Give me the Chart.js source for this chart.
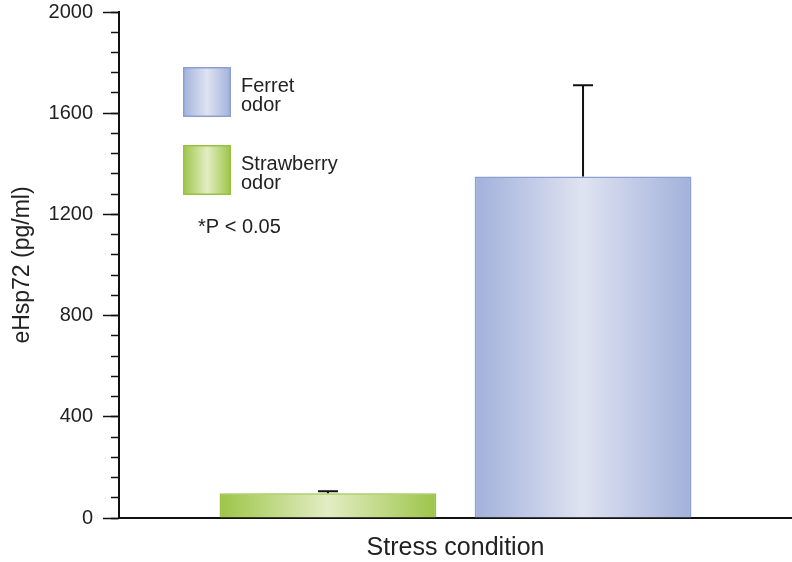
<!DOCTYPE html>
<html>
<head>
<meta charset="utf-8">
<script src="https://cdn.jsdelivr.net/npm/chart.js@4/dist/chart.umd.min.js"></script>
<style>
  html, body { margin: 0; padding: 0; background: #ffffff; }
  #wrap { position: relative; width: 792px; height: 562px; }
</style>
</head>
<body>
<div id="wrap"><canvas id="c" width="792" height="562"></canvas></div>
<script>
// ---- data ----
const categories = ['Stress condition'];
const seriesNames = ['Strawberry odor', 'Ferret odor'];
const legendLines = [['Strawberry', 'odor'], ['Ferret', 'odor']];
const meanValues = [98, 1350];
const errorValues = [8, 360];
const yMin = 0;
const yMax = 2000;
const majorStep = 400;
const minorStep = 80;
const yTitle = 'eHsp72 (pg/ml)';
const xTitle = 'Stress condition';
const noteText = '*P < 0.05';

// ---- styles ----
const FONT = "'Liberation Sans', Arial, Helvetica, sans-serif";
const CAT_PCT = 0.758;
const BAR_PCT = 0.85;
const palette = [
  { edge: '#9cc548', mid: '#e3edc3', border: '#97c143' },
  { edge: '#a2b1db', mid: '#dfe3f1', border: '#8c9fd3' }
];

function hGrad(ctx2d, x0, x1, p) {
  const g = ctx2d.createLinearGradient(x0, 0, x1, 0);
  g.addColorStop(0, p.edge);
  g.addColorStop(0.5, p.mid);
  g.addColorStop(1, p.edge);
  return g;
}

function barFill(ctx) {
  const chart = ctx.chart;
  const i = ctx.datasetIndex;
  const xs = chart.scales && chart.scales.x;
  if (!chart.chartArea || !xs || xs.width == null) return palette[i].edge;
  const W = xs.width;
  const center = xs.getPixelForValue(0);
  const groupW = W * CAT_PCT;
  const slot = groupW / seriesNames.length;
  const bw = slot * BAR_PCT;
  const c = center - groupW / 2 + slot * (i + 0.5);
  return hGrad(chart.ctx, c - bw / 2, c + bw / 2, palette[i]);
}

const errorBarPlugin = {
  id: 'errorBars',
  afterDatasetsDraw(chart) {
    const ctx = chart.ctx;
    const ys = chart.scales.y;
    ctx.save();
    ctx.strokeStyle = '#111111';
    ctx.lineWidth = 2;
    chart.data.datasets.forEach((ds, di) => {
      const meta = chart.getDatasetMeta(di);
      meta.data.forEach((el, j) => {
        const v = ds.data[j];
        const e = errorValues[di];
        const yTop = ys.getPixelForValue(v + e);
        const yBar = ys.getPixelForValue(v);
        ctx.beginPath();
        ctx.moveTo(el.x, yBar);
        ctx.lineTo(el.x, yTop);
        ctx.moveTo(el.x - 10, yTop);
        ctx.lineTo(el.x + 10, yTop);
        ctx.stroke();
      });
    });
    ctx.restore();
  }
};

const legendPlugin = {
  id: 'customLegend',
  afterDraw(chart) {
    const ctx = chart.ctx;
    ctx.save();
    const order = [1, 0];
    const boxTops = [67, 145];
    order.forEach((di, k) => {
      const x0 = 183, x1 = 231, y0 = boxTops[k], h = 50;
      ctx.fillStyle = hGrad(ctx, x0, x1, palette[di]);
      ctx.fillRect(x0, y0, x1 - x0, h);
      ctx.strokeStyle = palette[di].border;
      ctx.lineWidth = 1.5;
      ctx.strokeRect(x0 + 0.75, y0 + 0.75, x1 - x0 - 1.5, h - 1.5);
      ctx.fillStyle = '#222222';
      ctx.font = '20px ' + FONT;
      ctx.textBaseline = 'middle';
      ctx.textAlign = 'left';
      legendLines[di].forEach((line, li) => {
        ctx.fillText(line, 241, y0 + 19 + li * 19);
      });
    });
    ctx.fillText(noteText, 198, 227);
    ctx.restore();
  }
};

function fixPad(scale) {
  scale.paddingTop = 2;
  scale.paddingBottom = 0;
}

new Chart(document.getElementById('c'), {
  type: 'bar',
  data: {
    labels: categories,
    datasets: seriesNames.map((name, i) => ({
      label: name,
      data: [meanValues[i]],
      backgroundColor: barFill,
      borderColor: palette[i].border,
      borderWidth: 1.5,
      borderSkipped: 'bottom',
      categoryPercentage: CAT_PCT,
      barPercentage: BAR_PCT
    }))
  },
  options: {
    responsive: false,
    animation: false,
    devicePixelRatio: 1,
    layout: { padding: { top: 12, right: 0, bottom: 0, left: 0 } },
    plugins: {
      legend: { display: false },
      tooltip: { enabled: false },
      title: { display: false }
    },
    scales: {
      x: {
        type: 'category',
        offset: true,
        grid: { display: false, drawTicks: false },
        border: { display: true, color: '#111111', width: 2 },
        ticks: { display: false },
        title: {
          display: true,
          text: xTitle,
          color: '#222222',
          font: { family: FONT, size: 25, lineHeight: 1.1 },
          padding: { top: 16.5, bottom: 0 }
        }
      },
      y: {
        type: 'linear',
        position: 'left',
        weight: 1,
        min: yMin,
        max: yMax,
        afterFit(scale) { scale.width = 119; fixPad(scale); },
        afterBuildTicks(scale) {
          const t = [];
          for (let v = yMin; v <= yMax; v += majorStep) t.push({ value: v });
          scale.ticks = t;
        },
        grid: {
          display: true,
          drawOnChartArea: false,
          drawTicks: true,
          tickLength: 16,
          tickColor: '#111111',
          tickWidth: 1.5
        },
        border: { display: true, color: '#111111', width: 2 },
        ticks: {
          color: '#222222',
          padding: 10,
          font: { family: FONT, size: 20 },
          callback: (v) => String(v)
        },
        title: {
          display: true,
          text: yTitle,
          color: '#222222',
          font: { family: FONT, size: 23 },
          padding: { top: 9, bottom: 8 }
        }
      },
      yMinor: {
        type: 'linear',
        position: 'left',
        weight: 0,
        min: yMin,
        max: yMax,
        afterFit(scale) { scale.width = 0; fixPad(scale); },
        afterBuildTicks(scale) {
          const t = [];
          for (let v = yMin; v <= yMax; v += minorStep) t.push({ value: v });
          scale.ticks = t;
        },
        grid: {
          display: true,
          drawOnChartArea: false,
          drawTicks: true,
          tickLength: 8,
          tickColor: '#111111',
          tickWidth: 1.5
        },
        border: { display: false },
        ticks: { display: false }
      }
    }
  },
  plugins: [errorBarPlugin, legendPlugin]
});
</script>
</body>
</html>
